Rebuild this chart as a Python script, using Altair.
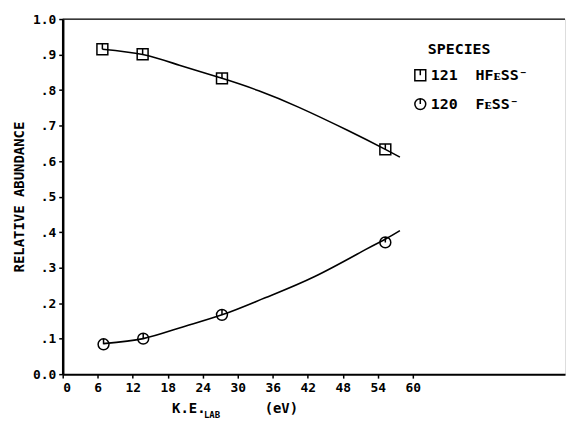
import altair as alt
import pandas as pd

# measured points
ke_121 = [6.8, 13.7, 27.3, 55.3]
ab_121 = [0.915, 0.901, 0.833, 0.633]
ke_120 = [7.0, 13.8, 27.3, 55.3]
ab_120 = [0.084, 0.100, 0.167, 0.371]

# fitted curves
fit_ke_121 = [6.8, 13.7, 20.0, 27.3, 33.6, 40.4, 48.9, 55.3, 57.8]
fit_ab_121 = [0.915, 0.900, 0.870, 0.833, 0.798, 0.752, 0.686, 0.633, 0.611]
fit_ke_120 = [7.0, 13.8, 20.0, 27.3, 34.7, 43.2, 51.8, 55.3, 57.8]
fit_ab_120 = [0.086, 0.100, 0.130, 0.167, 0.215, 0.275, 0.350, 0.380, 0.404]

species = ["121\u00a0\u00a0HF\u1d07SS\u207b", "120\u00a0\u00a0F\u1d07SS\u207b"]
x_ticks = [0, 6, 12, 18, 24, 30, 36, 42, 48, 54, 60]
y_ticks = [0.0, 0.1, 0.2, 0.3, 0.4, 0.5, 0.6, 0.7, 0.8, 0.9, 1.0]

pts = pd.DataFrame({
    "ke": ke_121 + ke_120,
    "ab": ab_121 + ab_120,
    "sp": [species[0]] * len(ke_121) + [species[1]] * len(ke_120),
})
fit = pd.DataFrame({
    "ke": fit_ke_121 + fit_ke_120,
    "ab": fit_ab_121 + fit_ab_120,
    "sp": [species[0]] * len(fit_ke_121) + [species[1]] * len(fit_ke_120),
})

FONT = "DejaVu Sans Mono"
FW = "bold"
W, H = 505, 357

xs = alt.Scale(domain=[0, 86.1], nice=False, zero=False)
ys = alt.Scale(domain=[0, 1], nice=False)

xax = alt.Axis(values=x_ticks, title=None, grid=False, labelFont=FONT, labelFontSize=13,
               labelFontWeight=FW, labelColor="black", tickColor="black", tickSize=4,
               labelOverlap=False, tickWidth=1.5, domainColor="black", domainWidth=2, labelPadding=3)
yax = alt.Axis(values=y_ticks, title="RELATIVE ABUNDANCE", grid=False, labelFont=FONT,
               labelFontSize=13, labelFontWeight=FW, labelColor="black", labelOverlap=False,
               labelExpr="datum.value == 0 ? '0.0' : (datum.value >= 1 ? '1.0' : slice(format(datum.value, '.1f'), 1))",
               tickColor="black", tickSize=4, tickWidth=1.5, domainColor="black", domainWidth=2.5,
               labelPadding=3, titleFont=FONT, titleFontSize=14, titleFontWeight=FW,
               titleColor="black", titlePadding=6)

square_tick = "M-1,-1L1,-1L1,1L-1,1Z M0,-1L0,0"
circle_tick = "M1,0A1,1 0 1,1 -1,0A1,1 0 1,1 1,0Z M0,-1L0,0"

shape_scale = alt.Scale(domain=species, range=[square_tick, circle_tick])

lines = alt.Chart(fit).mark_line(interpolate="natural", color="black", strokeWidth=1.6).encode(
    x=alt.X("ke:Q", scale=xs, axis=xax),
    y=alt.Y("ab:Q", scale=ys, axis=yax),
    detail="sp:N",
)

points = alt.Chart(pts).mark_point(filled=False, color="black", strokeWidth=1.5, size=120, opacity=1).encode(
    x=alt.X("ke:Q", scale=xs, axis=xax),
    y=alt.Y("ab:Q", scale=ys, axis=yax),
    shape=alt.Shape("sp:N", scale=shape_scale, sort=species,
                    legend=alt.Legend(title=None, orient="none", legendX=352, legendY=49,
                                      labelFont=FONT, labelFontSize=15, labelFontWeight=FW,
                                      labelColor="black", labelOffset=3, rowPadding=12,
                                      symbolSize=120, symbolStrokeColor="black", symbolFillColor="transparent",
                                      symbolStrokeWidth=1.5, padding=0)),
)

top_rule = alt.Chart(pd.DataFrame({"v": [1.0]})).mark_rule(color="black", strokeWidth=1.2).encode(
    y=alt.Y("v:Q", scale=ys, axis=yax), x=alt.value(0), x2=alt.value(W)
)

legend_title = alt.Chart(pd.DataFrame({"t": ["SPECIES"]})).mark_text(
    font=FONT, fontSize=15, fontWeight=FW, color="black", align="left", baseline="middle"
).encode(text="t:N", x=alt.value(367), y=alt.value(30))

title_ke = alt.Chart(pd.DataFrame({"t": ["K.E."]})).mark_text(
    font=FONT, fontSize=14, fontWeight=FW, color="black", align="left", baseline="middle"
).encode(text="t:N", x=alt.value(110), y=alt.value(392))
title_sub = alt.Chart(pd.DataFrame({"t": ["LAB"]})).mark_text(
    font=FONT, fontSize=9, fontWeight=FW, color="black", align="left", baseline="middle"
).encode(text="t:N", x=alt.value(142), y=alt.value(398))
title_ev = alt.Chart(pd.DataFrame({"t": ["(eV)"]})).mark_text(
    font=FONT, fontSize=14, fontWeight=FW, color="black", align="left", baseline="middle"
).encode(text="t:N", x=alt.value(203), y=alt.value(392))

chart = alt.layer(lines, top_rule, points, legend_title, title_ke, title_sub, title_ev).properties(
    width=W, height=H,
    autosize=alt.AutoSizeParams(type="none"),
    padding={"left": 55, "top": 10, "right": 3, "bottom": 45},
).configure_view(stroke=None).configure(background="white")

chart.save("out.html", embed_options={"renderer": "svg", "actions": False})
